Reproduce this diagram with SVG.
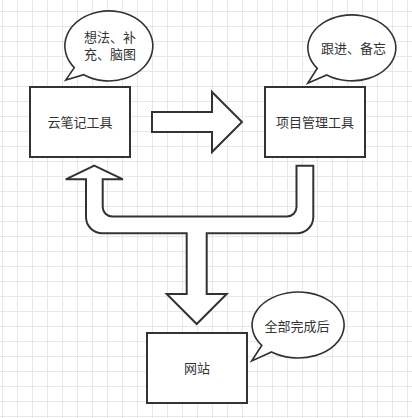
<svg xmlns="http://www.w3.org/2000/svg" width="412" height="418" viewBox="0 0 412 418">
  <defs>
    <pattern id="grid" patternUnits="userSpaceOnUse" x="2" y="11" width="15" height="15">
      <path d="M0.5 0 V15 M0 0.5 H15" fill="none" stroke="#e8e8e8" stroke-width="1"/>
    </pattern>
    <style>
      .box { fill: #ffffff; stroke: #333333; stroke-width: 2; }
      .bubble { fill: #ffffff; stroke: #333333; stroke-width: 1.6; stroke-linejoin: miter; }
      .arrow { fill: #ffffff; stroke: #333333; stroke-width: 2; stroke-linejoin: miter; }
      .label { font-family: 'Liberation Sans', 'Noto Sans CJK SC', sans-serif; font-size: 13px; fill: #333333; text-anchor: middle; }
    </style>
  </defs>
  <rect x="0" y="0" width="412" height="418" fill="#ffffff"/>
  <rect x="0" y="0" width="412" height="418" fill="url(#grid)"/>

  <g id="connectors">
    <path class="arrow" d="M152 112 L212 112 L212 92 L242 122 L212 152 L212 132 L152 132 Z"/>
    <path class="arrow" d="M94.3 165.7 L123 179.3 L102.7 179.3 L102.7 207 A9.5 9.5 0 0 0 112.2 216.5 L287 216.5 A9.5 9.5 0 0 0 296.5 207 L296.5 165.7 L313.3 165.7 L313.3 217 A16.3 16.3 0 0 1 297 233.3 L206.7 233.3 L206.7 294 L226.7 294 L196.7 324 L166.7 294 L186.7 294 L186.7 233.3 L102.3 233.3 A16.3 16.3 0 0 1 86 217 L86 179.3 L65.7 179.3 Z"/>
  </g>

  <g id="node-cloud-notes">
    <rect class="box" x="30" y="87" width="100" height="70"/>
    <text class="label" x="80" y="126.5">云笔记工具</text>
  </g>

  <g id="node-project-mgmt">
    <rect class="box" x="265" y="87" width="100" height="70"/>
    <text class="label" x="315" y="126.5">项目管理工具</text>
  </g>

  <g id="node-website">
    <rect class="box" x="147" y="333" width="100" height="70"/>
    <text class="label" x="197" y="372.5">网站</text>
  </g>

  <g id="bubble-ideas">
    <path class="bubble" d="M83.8 74.7 A44 35 0 1 0 74.3 67.6 L65.7 80 Z"/>
    <text class="label" x="110" y="41.5">想法、补</text>
    <text class="label" x="110" y="58.5">充、脑图</text>
  </g>

  <g id="bubble-follow">
    <path class="bubble" d="M326.8 75 A44 33 0 1 0 317.3 68.3 L307.7 83.3 Z"/>
    <text class="label" x="353.5" y="52.5">跟进、备忘</text>
  </g>

  <g id="bubble-done">
    <path class="bubble" d="M271.6 352 A46 33 0 1 0 261.8 345.3 L251.7 361 Z"/>
    <text class="label" x="297" y="331">全部完成后</text>
  </g>
</svg>
